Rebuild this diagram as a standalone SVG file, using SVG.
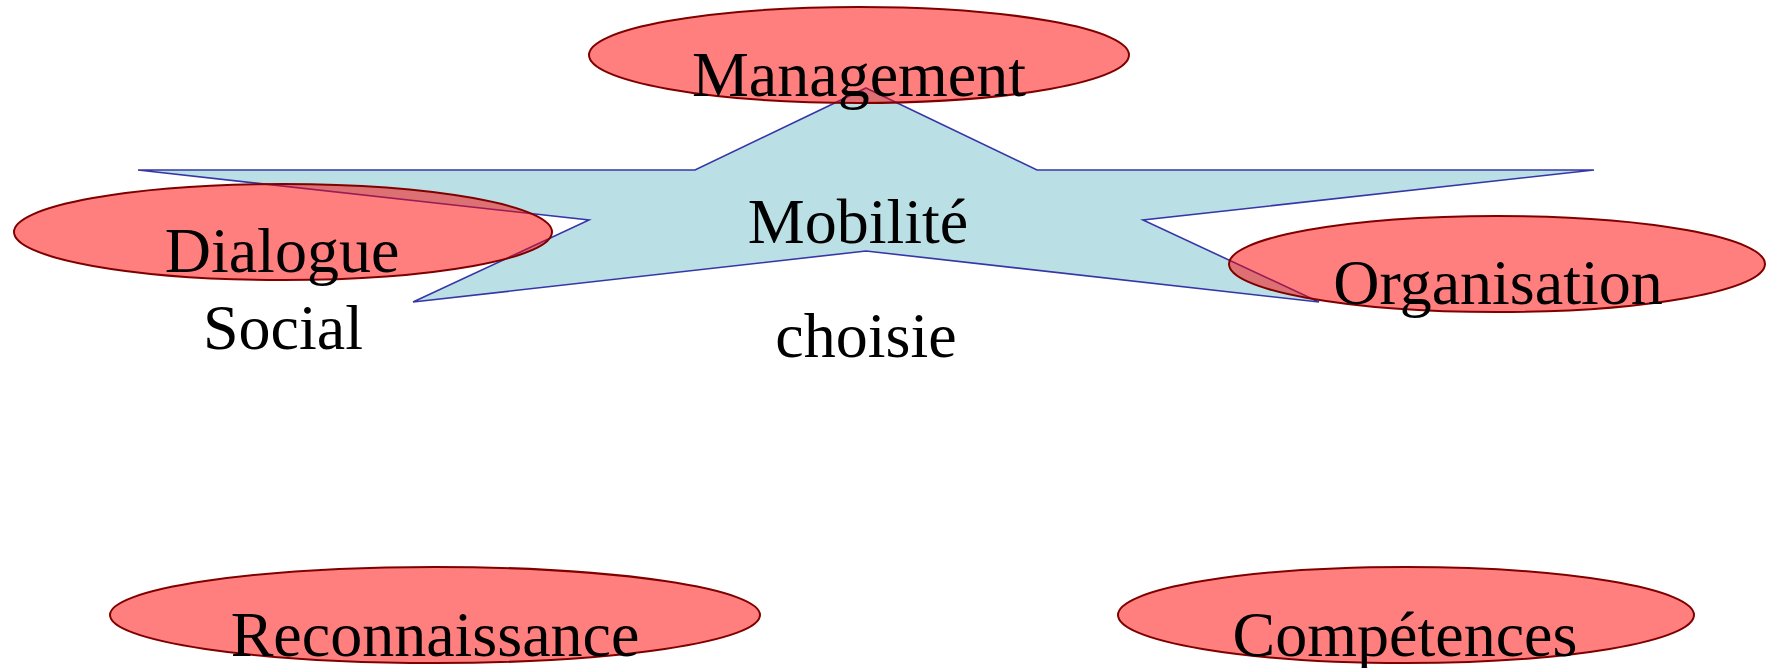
<svg xmlns="http://www.w3.org/2000/svg" width="1766" height="668" viewBox="0 0 1766 668">
<style>
.bg{fill:#ffffff}
.star{fill:#bae0e5;stroke:#3636a8;stroke-width:1.6;stroke-linejoin:miter}
.node ellipse{fill:#ff0000;fill-opacity:0.5;stroke:#800000;stroke-width:2}
text{font-family:"Liberation Serif","Times New Roman",serif;font-size:64px;fill:#000000;text-anchor:middle}
</style>
<rect class="bg" x="0" y="0" width="1766" height="668"/>
<g id="mobilite" class="center">
<polygon class="star" points="866,88 1037,170 1594,170 1143,220 1319,302 866,251 413,302 589,220 138,170 695,170"/>
<text x="858" y="243">Mobilité</text>
<text x="866" y="357">choisie</text>
</g>
<g id="management" class="node">
<ellipse cx="859" cy="55" rx="270" ry="48"/>
<text x="859" y="96">Management</text>
</g>
<g id="dialogue" class="node">
<ellipse cx="283" cy="232" rx="269" ry="48"/>
<text x="282" y="272">Dialogue</text>
<text x="283" y="349">Social</text>
</g>
<g id="organisation" class="node">
<ellipse cx="1497" cy="264" rx="268" ry="48"/>
<text x="1498" y="304">Organisation</text>
</g>
<g id="reconnaissance" class="node">
<ellipse cx="435" cy="615" rx="325" ry="48"/>
<text x="435" y="656">Reconnaissance</text>
</g>
<g id="competences" class="node">
<ellipse cx="1406" cy="615" rx="288" ry="48"/>
<text x="1405" y="656">Compétences</text>
</g>
<g id="connectors"></g>
</svg>
